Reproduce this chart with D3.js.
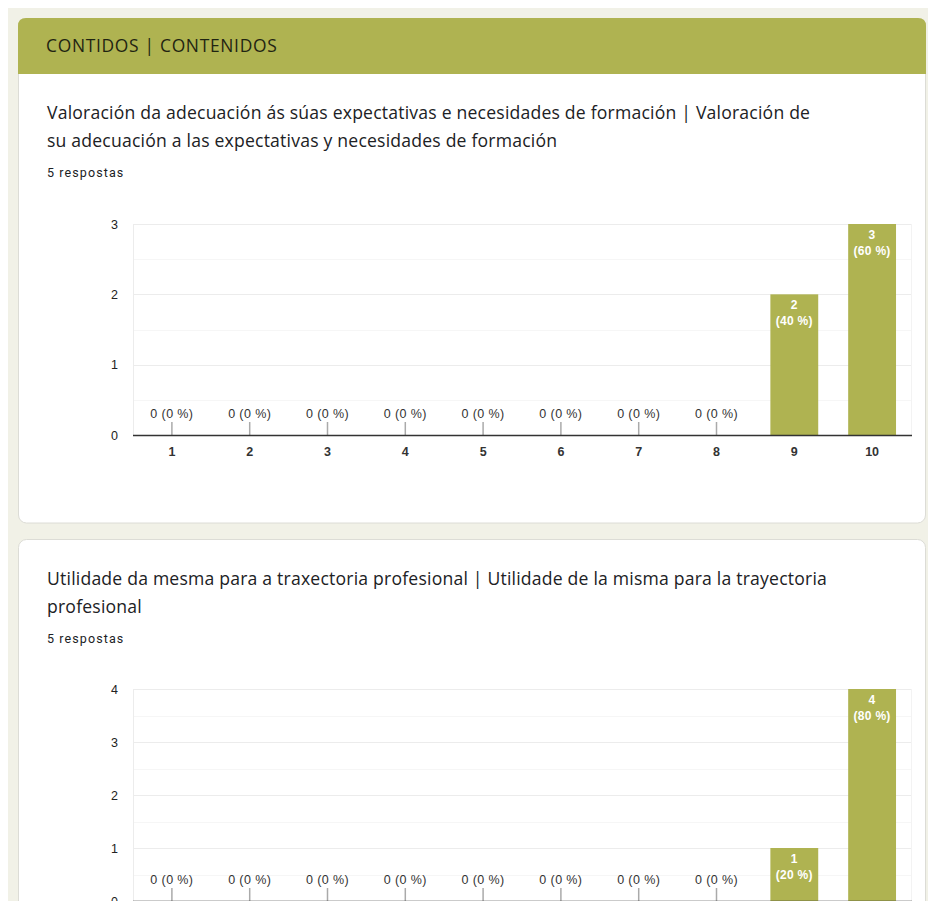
<!DOCTYPE html>
<html>
<head>
<meta charset="utf-8">
<script src="https://cdn.jsdelivr.net/npm/d3@7"></script>
<style>
  html, body { margin: 0; padding: 0; background: #fff; overflow: hidden; }
  svg { display: block; }
</style>
</head>
<body>
<div id="page"></div>
<script>
// data
var categories = ["1", "2", "3", "4", "5", "6", "7", "8", "9", "10"];
var counts1 = [0, 0, 0, 0, 0, 0, 0, 0, 2, 3];
var counts2 = [0, 0, 0, 0, 0, 0, 0, 0, 1, 4];
var responses1 = 5;
var responses2 = 5;
var yTicks1 = [0, 1, 2, 3];
var yTicks2 = [0, 1, 2, 3, 4];
var sectionTitle = "CONTIDOS | CONTENIDOS";
var title1 = ["Valoración da adecuación ás súas expectativas e necesidades de formación | Valoración de",
              "su adecuación a las expectativas y necesidades de formación"];
var title2 = ["Utilidade da mesma para a traxectoria profesional | Utilidade de la misma para la trayectoria",
              "profesional"];

var W = 928, H = 901;
var olive = "#afb351";
var chartFont = "'Liberation Sans', Arial, sans-serif";
var headFont = "'Open Sans', Roboto, sans-serif";

var svg = d3.select("#page").append("svg")
    .attr("width", W)
    .attr("height", H);

// page background
svg.append("rect").attr("x", 8).attr("y", 8).attr("width", W - 8).attr("height", H - 8)
    .attr("fill", "#f1f1e7");

// card 1
svg.append("rect")
    .attr("x", 18.5).attr("y", 18.5).attr("width", 907).attr("height", 504.5)
    .attr("rx", 8).attr("fill", "#fff").attr("stroke", "#dcdcd6");
// header band with rounded top corners
svg.append("path")
    .attr("d", "M18,74 L18,26 Q18,18 26,18 L918,18 Q926,18 926,26 L926,74 Z")
    .attr("fill", olive);
svg.append("text")
    .attr("x", 46).attr("y", 52)
    .style("font-family", headFont).style("font-size", "17.4px").style("letter-spacing", "0.7px")
    .attr("fill", "#1f2412")
    .text(sectionTitle);

// card 2
svg.append("rect")
    .attr("x", 18.5).attr("y", 539.5).attr("width", 907).attr("height", 420)
    .attr("rx", 8).attr("fill", "#fff").attr("stroke", "#dcdcd6");

function question(lines, y0, n) {
    var t = svg.append("text")
        .style("font-family", headFont).style("font-size", "17.6px").style("letter-spacing", "0.2px")
        .attr("fill", "#202124");
    t.selectAll("tspan").data(lines).enter().append("tspan")
        .attr("x", 47)
        .attr("y", function(d, i) { return y0 + i * 28; })
        .text(function(d) { return d; });
    svg.append("text")
        .attr("x", 47).attr("y", y0 + 58)
        .style("font-family", "Roboto, sans-serif").style("font-size", "12.5px").style("letter-spacing", "1.1px")
        .attr("fill", "#202124")
        .text(n + " respostas");
}

question(title1, 119, responses1);
question(title2, 585, responses2);

function barChart(counts, ticks, total, top, bottom) {
    var g = svg.append("g");
    var x = d3.scaleBand().domain(categories).range([133, 911]).paddingInner(0.385).paddingOuter(0.1925);
    var y = d3.scaleLinear().domain([0, d3.max(ticks)]).range([bottom, top]);

    // minor gridlines at half steps
    var half = d3.range(0.5, d3.max(ticks), 1);
    g.selectAll(".minor").data(half).enter().append("line")
        .attr("x1", 133).attr("x2", 912)
        .attr("y1", function(d) { return Math.round(y(d)) + 0.5; })
        .attr("y2", function(d) { return Math.round(y(d)) + 0.5; })
        .attr("stroke", "#f6f6f6");
    g.selectAll(".major").data(ticks.slice(1)).enter().append("line")
        .attr("x1", 133).attr("x2", 912)
        .attr("y1", function(d) { return Math.round(y(d)) + 0.5; })
        .attr("y2", function(d) { return Math.round(y(d)) + 0.5; })
        .attr("stroke", "#ececec");
    // side edges of the plot
    g.append("line").attr("x1", 133.5).attr("x2", 133.5).attr("y1", top).attr("y2", bottom)
        .attr("stroke", "#ececec");
    g.append("line").attr("x1", 911.5).attr("x2", 911.5).attr("y1", top).attr("y2", bottom)
        .attr("stroke", "#f3f3f3");

    // y axis labels
    var yAxis = d3.axisLeft(y).tickValues(ticks).tickSize(0).tickPadding(0).tickFormat(d3.format("d"));
    var ya = g.append("g").attr("transform", "translate(118,0)").call(yAxis);
    ya.select(".domain").remove();
    ya.selectAll("text")
        .style("font-family", chartFont).style("font-size", "12.5px").attr("fill", "#222");

    // bars
    g.selectAll(".bar").data(counts).enter().append("rect")
        .attr("x", function(d, i) { return x(categories[i]); })
        .attr("width", x.bandwidth())
        .attr("y", function(d) { return y(d); })
        .attr("height", function(d) { return bottom - y(d); })
        .attr("fill", olive);

    // small ticks for empty categories
    var zero = counts.map(function(d, i) { return { v: d, c: categories[i] }; })
        .filter(function(d) { return d.v === 0; });
    g.selectAll(".zt").data(zero).enter().append("line")
        .attr("x1", function(d) { return x(d.c) + x.bandwidth() / 2; })
        .attr("x2", function(d) { return x(d.c) + x.bandwidth() / 2; })
        .attr("y1", bottom).attr("y2", bottom - 13)
        .attr("stroke", "#aaa").attr("stroke-width", 1.5);
    g.selectAll(".zl").data(zero).enter().append("text")
        .attr("x", function(d) { return x(d.c) + x.bandwidth() / 2; })
        .attr("y", bottom - 17)
        .attr("text-anchor", "middle")
        .style("font-family", chartFont).style("font-size", "12.5px").style("letter-spacing", "0.4px")
        .attr("fill", "#333")
        .text(function(d) { return d.v + " (" + Math.round(d.v / total * 100) + " %)"; });

    // labels inside bars
    var filled = counts.map(function(d, i) { return { v: d, c: categories[i] }; })
        .filter(function(d) { return d.v > 0; });
    var bl = g.selectAll(".bl").data(filled).enter().append("text")
        .attr("text-anchor", "middle")
        .style("font-family", chartFont).style("font-size", "12px").style("font-weight", "bold")
        .style("letter-spacing", "0.3px").attr("fill", "#fff");
    bl.append("tspan")
        .attr("x", function(d) { return x(d.c) + x.bandwidth() / 2; })
        .attr("y", function(d) { return y(d.v) + 15; })
        .text(function(d) { return d.v; });
    bl.append("tspan")
        .attr("x", function(d) { return x(d.c) + x.bandwidth() / 2; })
        .attr("y", function(d) { return y(d.v) + 31; })
        .text(function(d) { return "(" + Math.round(d.v / total * 100) + " %)"; });

    // x axis
    var xAxis = d3.axisBottom(x).tickSize(0).tickPadding(0);
    var xa = g.append("g").attr("transform", "translate(0," + bottom + ")").call(xAxis);
    xa.select(".domain").remove();
    xa.selectAll("text")
        .attr("dy", null).attr("y", 21)
        .style("font-family", chartFont).style("font-size", "12.5px").style("font-weight", "bold")
        .attr("fill", "#333");
    g.append("line").attr("x1", 133).attr("x2", 912).attr("y1", bottom + 0.5).attr("y2", bottom + 0.5)
        .attr("stroke", "#333").attr("stroke-width", 1.5);
}

barChart(counts1, yTicks1, responses1, 224, 435);
barChart(counts2, yTicks2, responses2, 689, 901);
</script>
</body>
</html>
